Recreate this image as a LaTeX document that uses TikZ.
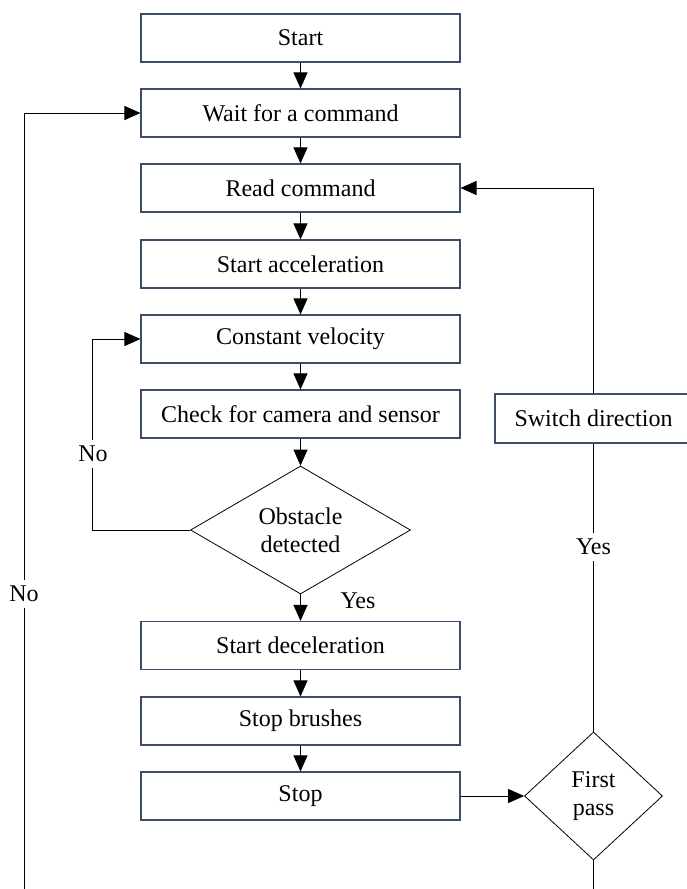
\documentclass[tikz,border=0pt]{standalone}
\usepackage{fontspec}
\setmainfont{Liberation Serif}
\usetikzlibrary{shapes.geometric,arrows.meta}
\definecolor{boxline}{HTML}{3E4C6B}
\begin{document}
\begin{tikzpicture}[x=1pt,y=-1pt,
 font=\fontsize{24}{28}\selectfont,
 proc/.style={draw=boxline, line width=1.1pt, minimum width=319pt, minimum height=48pt, inner sep=0pt, fill=white},
 dec/.style={draw, line width=0.8pt, shape=diamond, inner sep=0pt},
 flow/.style={line width=0.9pt, -{Triangle[length=16pt,width=14pt]}},
 link/.style={line width=0.9pt},
 lbl/.style={fill=white, inner xsep=2pt, inner ysep=6pt}]
\useasboundingbox (0,0) rectangle (687,889);
\clip (0,0) rectangle (687,889);
\fill[white] (0,0) rectangle (687,889);
\node[proc] (start) at (300.5,38) {Start};
\node[proc] (wait) at (300.5,113) {Wait for a command};
\node[proc] (read) at (300.5,188) {Read command};
\node[proc] (accel) at (300.5,264) {Start acceleration};
\node[proc] (const) at (300.5,339) {Constant velocity};
\node[proc] (check) at (300.5,414) {Check for camera and sensor};
\node[dec, minimum width=220pt, minimum height=128pt] (obs) at (300.5,530) {};
\node[align=center] (obst) at (obs) {Obstacle\\detected};
\node[proc] (decel) at (300.5,645.5) {Start deceleration};
\node[proc] (brush) at (300.5,721) {Stop brushes};
\node[proc] (stop) at (300.5,796) {Stop};
\node[dec, minimum width=138pt, minimum height=128pt] (fp) at (593.5,796) {};
\node[align=center] (fpt) at (fp) {First\\pass};
\node[proc, minimum width=197pt, minimum height=49pt] (switch) at (593.5,418.5) {Switch direction};
\coordinate (lb) at (24,889);
\coordinate (rb) at (593.5,889);

\draw[flow] (start) -- (wait);
\draw[flow] (wait) -- (read);
\draw[flow] (read) -- (accel);
\draw[flow] (accel) -- (const);
\draw[flow] (const) -- (check);
\draw[flow] (check) -- (obs);
\draw[flow] (obs) -- (decel);
\draw[flow] (decel) -- (brush);
\draw[flow] (brush) -- (stop);
\draw[flow] (stop) -- (fp);
\draw[flow] (obs.west) -- ++(-97.5,0) |- (const.west);
\draw[flow] (lb) |- (wait.west);
\draw[link] (fp.south) -- (rb);
\draw[link] (fp.north) -- (switch.south);
\draw[flow] (switch.north) |- (read.east);

\node[lbl] (no1) at (93,454) {No};
\node[lbl] (no2) at (24,594) {No};
\node[lbl] (yes1) at (593.5,547) {Yes};
\node (yes2) at (358,601) {Yes};
\end{tikzpicture}
\end{document}
